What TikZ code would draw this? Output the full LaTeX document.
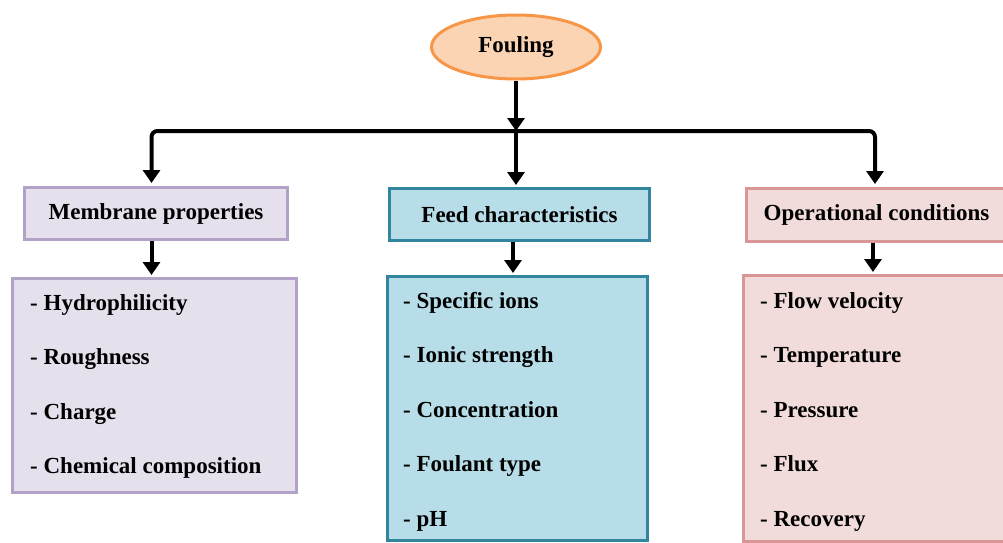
\documentclass[tikz,border=0pt]{standalone}
\usepackage{fontspec}
\setmainfont{Liberation Serif}
\usetikzlibrary{arrows.meta,shapes.geometric}
\definecolor{orfill}{HTML}{FBD4B4}
\definecolor{ordraw}{HTML}{F79646}
\definecolor{lvfill}{HTML}{E5E0EC}
\definecolor{lvdraw}{HTML}{B3A2C7}
\definecolor{blfill}{HTML}{B7DEE8}
\definecolor{bldraw}{HTML}{31859C}
\definecolor{pkfill}{HTML}{F2DCDB}
\definecolor{pkdraw}{HTML}{D99694}
\tikzset{
  lbl/.style={font=\fontsize{23}{26}\selectfont\bfseries, inner sep=0pt},
  headbox/.style={draw, line width=3pt, rectangle, inner sep=0pt, anchor=north west},
  listbox/.style={draw, line width=3pt, rectangle, inner sep=0pt, anchor=north west},
  item/.style={lbl, anchor=base west},
  arr/.style={line width=4pt, -{Triangle[width=17pt,length=13pt]}, shorten >=2pt},
}
\begin{document}
\begin{tikzpicture}[x=1pt,y=-1pt]
\useasboundingbox (0,0) rectangle (1003,542);
% top ellipse
\node[ellipse, draw=ordraw, fill=orfill, line width=3pt, minimum width=169pt, minimum height=64pt, inner sep=0pt] (fouling) at (516,47) {};
\node[lbl] (foulingtxt) at (fouling.center) {Fouling};
% header boxes
\node[headbox, draw=lvdraw, fill=lvfill, minimum width=263pt, minimum height=52pt] (mem) at (23,186) {};
\node[lbl] (memtxt) at (mem.center) {Membrane properties};
\node[headbox, draw=bldraw, fill=blfill, minimum width=260pt, minimum height=52pt] (feed) at (388,187) {};
\node[lbl] (feedtxt) at (feed.center) {Feed characteristics};
\node[headbox, draw=pkdraw, fill=pkfill, minimum width=260pt, minimum height=53pt] (op) at (745,187) {};
\node[lbl] (optxt) at (op.center) {Operational conditions};
% list boxes
\node[listbox, draw=lvdraw, fill=lvfill, minimum width=284pt, minimum height=214pt] (meml) at (11,277) {};
\node[listbox, draw=bldraw, fill=blfill, minimum width=260pt, minimum height=264pt] (feedl) at (386,275) {};
\node[listbox, draw=pkdraw, fill=pkfill, minimum width=266pt, minimum height=266pt] (opl) at (742,274) {};
% items
\node[item] (m1) at (30,310) {- Hydrophilicity};
\node[item] (m2) at (30,364.5) {- Roughness};
\node[item] (m3) at (30,419) {- Charge};
\node[item] (m4) at (30,473.5) {- Chemical composition};
\node[item] (f1) at (403,308) {- Specific ions};
\node[item] (f2) at (403,362.5) {- Ionic strength};
\node[item] (f3) at (403,417) {- Concentration};
\node[item] (f4) at (403,471.5) {- Foulant type};
\node[item] (f5) at (403,526) {- pH};
\node[item] (o1) at (760,308) {- Flow velocity};
\node[item] (o2) at (760,362.5) {- Temperature};
\node[item] (o3) at (760,417) {- Pressure};
\node[item] (o4) at (760,471.5) {- Flux};
\node[item] (o5) at (760,526) {- Recovery};
% connectors
\coordinate (junc) at (516,131);
\coordinate (memtop) at (151.5,185);
\coordinate (optop) at (875,186);
\draw[arr, shorten >=0pt] (fouling.south) -- (junc);
\draw[arr, rounded corners=6pt] (junc) -| (memtop);
\draw[arr, rounded corners=6pt] (junc) -| (optop);
\draw[arr] (junc) -- (feed.north -| junc);
\draw[arr] (mem.south -| memtop) -- (meml.north -| memtop);
\draw[arr] (feed.south -| 513,0) -- (feedl.north -| 513,0);
\draw[arr] (op.south -| 873,0) -- (opl.north -| 873,0);
\end{tikzpicture}
\end{document}
